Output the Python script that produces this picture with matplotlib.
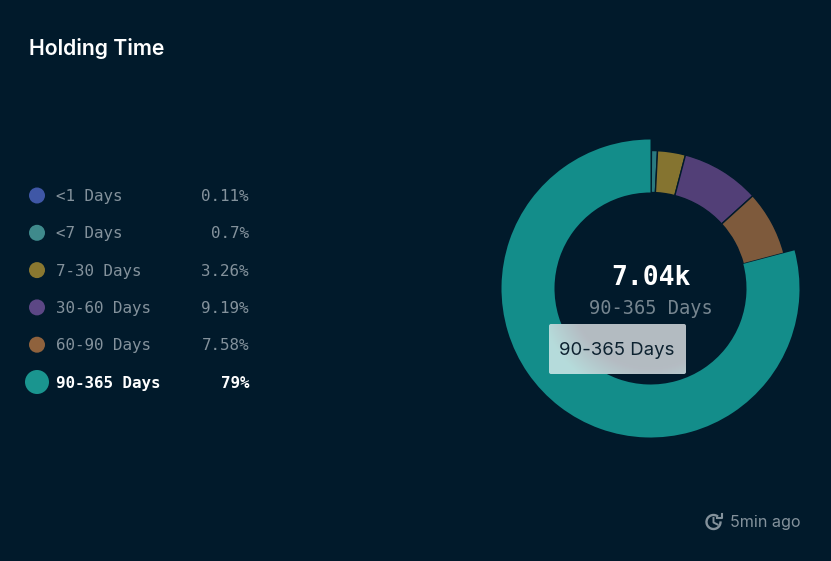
import numpy as np
import matplotlib
matplotlib.use('Agg')
import matplotlib.pyplot as plt
from matplotlib.patches import Arc, Circle, FancyBboxPatch

W, H = 831, 561
BG = '#011a2b'

labels = ['<1 Days', '<7 Days', '7-30 Days', '30-60 Days', '60-90 Days', '90-365 Days']
shares = [0.11, 0.7, 3.26, 9.19, 7.58, 79]
share_text = ['0.11%', '0.7%', '3.26%', '9.19%', '7.58%', '79%']
slice_colors = ['#33509a', '#2a7a80', '#857430', '#523f77', '#7e5a3c', '#138d8a']
dot_colors = ['#3f57a6', '#3f8a8c', '#8a7830', '#5c4785', '#8f623d', '#1a958f']
active = 5

fig = plt.figure(figsize=(W / 100, H / 100), dpi=100, facecolor=BG)

# donut gets its own axes, 1 data unit = 1 pixel
cx, cy, R = 650.5, 288.5, 150
pie_ax = fig.add_axes([(cx - R) / W, 1 - (cy + R) / H, 2 * R / W, 2 * R / H])
wedges, _ = pie_ax.pie(shares, colors=slice_colors, startangle=90, counterclock=False,
                       radius=138, frame=True,
                       wedgeprops=dict(width=42, edgecolor=BG, linewidth=1))
pie_ax.set_xlim(-R, R)
pie_ax.set_ylim(-R, R)
pie_ax.axis('off')
wedges[active].set_radius(149)
wedges[active].set_width(53)
wedges[active].set_edgecolor('none')
wedges[active].set_zorder(3)

# overlay in pixel coordinates for text and legend
ax = fig.add_axes([0, 0, 1, 1], facecolor='none')
ax.set_xlim(0, W)
ax.set_ylim(H, 0)
ax.axis('off')

ax.text(29, 48.5, 'Holding Time', family='Inter', fontsize=15.3, fontweight='semibold',
        color='white', va='center')

row_y = np.linspace(195.5, 382, len(labels))
for i, y in enumerate(row_y):
    on = i == active
    ax.add_patch(Circle((37, y), 12 if on else 8, color=dot_colors[i], lw=0))
    txt_col = 'white' if on else '#84929c'
    wt = 'bold' if on else 'normal'
    ax.text(56, y + 1, labels[i], family='DejaVu Sans Mono', fontsize=11.4, color=txt_col,
            fontweight=wt, va='center')
    ax.text(249, y + 1, share_text[i], family='DejaVu Sans Mono', fontsize=11.4, color=txt_col,
            fontweight=wt, va='center', ha='right')

ax.text(650.5, 278, '7.04k', family='DejaVu Sans Mono', fontsize=19, fontweight='bold',
        color='white', ha='center', va='center')
ax.text(650.5, 308, labels[active], family='DejaVu Sans Mono', fontsize=13.4,
        color='#76858f', ha='center', va='center')

# tooltip with frosted look: blurred ring edge behind a pale panel
x0, x1, y0, y1 = 549, 686, 324, 374
xx, yy = np.meshgrid(np.arange(x0, x1) + .5, np.arange(y0, y1) + .5)
dist = np.hypot(xx - cx, yy - cy)
mix = np.clip((dist - 96 + 16) / 32, 0, 1)[..., None]
dark = np.array([0xb4, 0xbb, 0xc2]) / 255
light = np.array([0xb6, 0xdc, 0xdb]) / 255
panel = dark * (1 - mix) + light * mix
im = ax.imshow(panel, extent=(x0, x1, y1, y0), zorder=5, aspect='auto')
box = FancyBboxPatch((x0 + 2, y0 + 2), x1 - x0 - 4, y1 - y0 - 4, boxstyle='round,pad=2,rounding_size=2',
                     fc='none', ec='none', transform=ax.transData)
ax.add_patch(box)
im.set_clip_path(box)
ax.set_xlim(0, W)
ax.set_ylim(H, 0)
ax.text(617, 350, labels[active], family='Inter', fontsize=13.4, color='#0d2230',
        ha='center', va='center', zorder=6)

# clock icon
gray = '#84929c'
ax.add_patch(Arc((713.5, 522), 14, 14, theta1=-5, theta2=310, color=gray, lw=1.7))
ax.plot([713.5, 713.5, 717.5], [518, 522.5, 524.5], color=gray, lw=1.4)
ax.plot([716.5, 721.5, 721.5], [518, 518, 513.5], color=gray, lw=1.5)
ax.text(730, 523, '5min ago', family='Inter', fontsize=11.6, color=gray, va='center')

fig.savefig('out.png', dpi=100, facecolor=BG)
